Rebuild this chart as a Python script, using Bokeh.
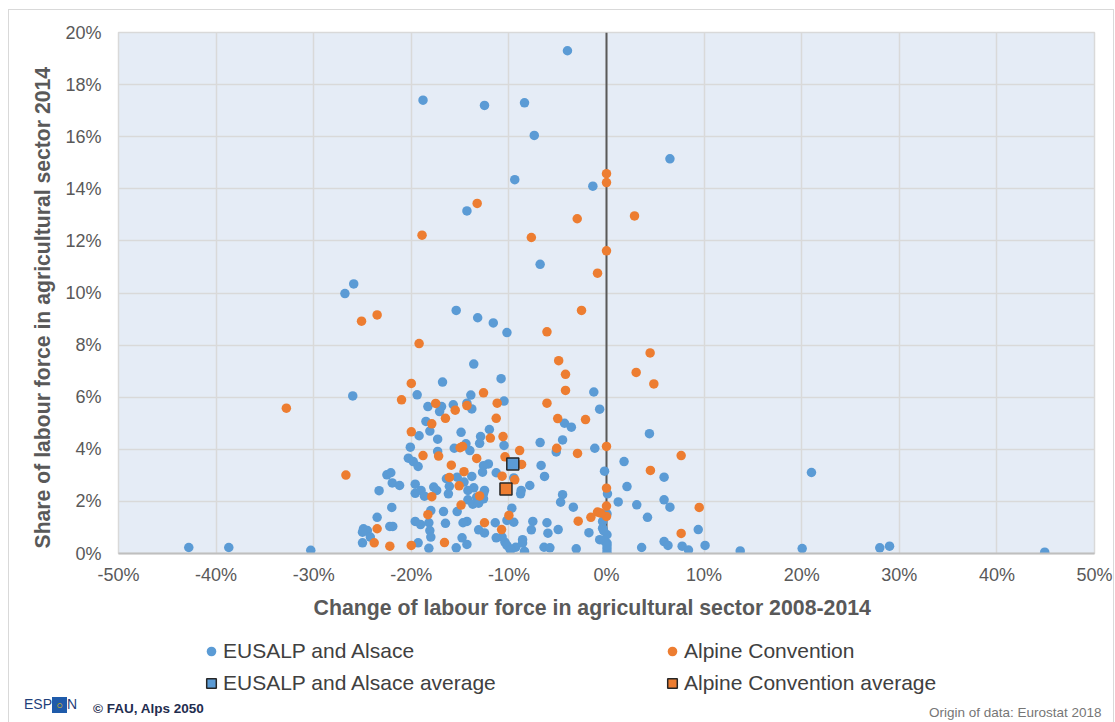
from bokeh.plotting import figure
from bokeh.layouts import column
from bokeh.models import (ColumnDataSource, FixedTicker, PrintfTickFormatter, Span,
                          Legend, LegendItem, Title, Range1d, Div)
from bokeh.embed import file_html
from bokeh.resources import INLINE

# ---------------- data (percent) ----------------
eusalp_change = [
    -4.0, -18.8, -12.5, -8.4, -7.4, 6.5, -9.4, -1.4, -14.3, -6.8,
    -25.9, -26.8, -15.4, -13.2, -11.6, -10.2, -13.6, -10.8, -16.8, -1.3,
    -26.0, -19.4, -13.9, -0.7, -18.3, -16.9, -17.1, -15.7, -14.3, -13.8,
    -10.5, -18.5, -18.1, -19.2, -17.3, -14.9, -12.0, -12.9, -13.0, -14.4,
    -10.5, -20.1, -15.6, -14.0, -17.3, -6.8, -4.5, -1.2, -5.15, -4.3,
    -3.6, 4.4, -20.3, -19.8, -19.3, -12.1, -12.6, -12.7, -11.3, -6.7,
    -6.35, -0.2, 1.8, 5.9, -22.5, -22.1, -21.95, -21.2, -23.3, -19.6,
    -19.6, -19.0, -18.65, -17.7, -17.4, -16.4, -16.1, -16.2, -15.3, -14.6,
    -14.2, -13.8, -13.6, -13.3, -14.2, -13.7, -13.1, -12.5, -8.74, -8.8,
    -7.86, -4.5, -4.7, -3.4, 0.1, 1.2, 2.1, 3.1, 5.9, 6.5,
    4.2, -22.0, -23.5, -18.0, -16.7, -15.3, -9.7, -10.2, -9.5, -11.4,
    -7.55, -6.1, -7.7, -6.0, -4.95, -1.8, -0.4, -0.4, 0.05, 0.05,
    -0.7, 0.05, 0.05, 0.05, 9.4, 10.1, 13.7, 5.9, 6.3, 7.75,
    8.4, 3.6, -3.1, -6.4, -5.8, -8.4, -8.6, -9.3, -9.9, -10.4,
    -10.7, -11.3, -12.5, -13.1, -14.3, -14.7, -14.8, -14.3, -15.4, -16.5,
    -18.2, -18.1, -18.0, -18.2, -19.6, -19.05, -19.3, -22.2, -21.9, -24.9,
    -24.5, -25.0, -24.2, -25.0, -42.8, -38.7, -30.3, 21.0, 20.05, 28.0,
    29.0, 44.9, -9.5, -12.6, -10.2, -9.8, -8.6, -0.3, -0.3, 0.05, -12.6,
]
eusalp_share = [
    19.3, 17.4, 17.2, 17.3, 16.05, 15.15, 14.35, 14.1, 13.15, 11.1,
    10.35, 9.98, 9.33, 9.05, 8.85, 8.48, 7.27, 6.71, 6.58, 6.2,
    6.05, 6.09, 6.08, 5.54, 5.64, 5.64, 5.45, 5.71, 5.77, 5.55,
    5.85, 5.07, 4.7, 4.52, 4.39, 4.65, 4.76, 4.49, 4.23, 4.21,
    4.15, 4.08, 4.04, 3.95, 3.92, 4.26, 4.36, 4.04, 3.9, 5.0,
    4.85, 4.6, 3.66, 3.53, 3.34, 3.44, 3.37, 3.12, 3.1, 3.38,
    2.96, 3.16, 3.53, 2.93, 3.02, 3.1, 2.71, 2.61, 2.41, 2.66,
    2.31, 2.42, 2.2, 2.55, 2.42, 2.87, 2.58, 2.29, 2.93, 2.74,
    2.42, 2.96, 2.52, 2.16, 2.06, 1.89, 1.93, 2.42, 2.42, 2.29,
    2.61, 2.26, 1.97, 1.78, 2.29, 1.98, 2.57, 1.87, 2.06, 1.78,
    1.39, 1.77, 1.39, 1.65, 1.61, 1.61, 1.74, 1.27, 1.2, 1.18,
    1.23, 1.18, 0.91, 0.78, 0.92, 0.8, 1.23, 0.97, 1.52, 0.72,
    0.53, 0.4, 0.18, 0.05, 0.92, 0.31, 0.1, 0.46, 0.31, 0.28,
    0.13, 0.23, 0.18, 0.24, 0.22, 0.08, 0.53, 0.24, 0.18, 0.43,
    0.63, 0.6, 0.79, 0.91, 1.23, 1.18, 0.6, 0.35, 0.22, 1.16,
    1.18, 0.88, 0.63, 0.2, 1.23, 1.11, 0.41, 1.04, 1.04, 0.95,
    0.88, 0.82, 0.63, 0.41, 0.23, 0.23, 0.12, 3.11, 0.19, 0.22,
    0.28, 0.05, 2.9, 2.3, 0.31, 0.14, 0.4, 0.88, 0.5, 0.3, 2.1,
]
alpine_change = [
    0.0, 0.0, -13.25, -3.0, 2.87, -18.9, -7.7, 0.0, -0.92, -25.1,
    -23.5, -2.56, -6.1, -19.2, 4.47, -4.9, -4.2, 3.04, 4.85, -4.2,
    -20.0, -12.6, -21.0, -17.5, -14.3, -15.5, -11.2, -6.1, -11.3, -16.5,
    -17.9, -5.0, -2.15, -20.0, -11.9, -10.6, 0.0, -5.1, -2.97, 7.65,
    -15.0, -14.75, -8.9, -18.8, -17.2, -13.3, -10.4, -8.7, -15.9, 4.5,
    -14.6, -10.7, -9.4, -16.1, -15.1, 0.0, -13.0, -17.9, -14.9, 0.0,
    9.5, -0.92, -1.6, 0.0, -2.9, -10.0, -18.3, -12.5, -23.5, -10.75,
    7.65, -23.8, -22.2, -20.0, -16.6, -32.8, -26.7, -0.6,
]
alpine_share = [
    14.58, 14.24, 13.44, 12.85, 12.96, 12.22, 12.13, 11.62, 10.76, 8.92,
    9.16, 9.33, 8.51, 8.06, 7.7, 7.4, 6.88, 6.95, 6.51, 6.26,
    6.53, 6.17, 5.9, 5.76, 5.68, 5.5, 5.77, 5.77, 5.19, 5.19,
    4.98, 5.18, 5.14, 4.67, 4.43, 4.49, 4.11, 4.04, 3.84, 3.76,
    4.06, 4.11, 3.95, 3.76, 3.74, 3.65, 3.71, 3.42, 3.39, 3.19,
    3.14, 2.97, 2.83, 2.92, 2.6, 2.51, 2.21, 2.18, 1.86, 1.82,
    1.77, 1.59, 1.39, 1.42, 1.24, 1.46, 1.49, 1.18, 0.95, 0.92,
    0.77, 0.41, 0.28, 0.31, 0.42, 5.58, 3.01, 1.55,
]
eusalp_avg_change = [-9.6]
eusalp_avg_share = [3.44]
alpine_avg_change = [-10.3]
alpine_avg_share = [2.48]

x_ticks = [-50, -40, -30, -20, -10, 0, 10, 20, 30, 40, 50]
y_ticks = [0, 2, 4, 6, 8, 10, 12, 14, 16, 18, 20]

BLUE = "#5B9BD5"
ORANGE = "#ED7D31"
FONT = "Liberation Sans"
GREY = "#595959"

p = figure(width=1115, height=632, x_range=Range1d(-50, 50), y_range=Range1d(0, 20),
           output_backend="svg", toolbar_location=None,
           min_border_left=118, min_border_right=21, min_border_top=32, min_border_bottom=79,
           background_fill_color="#E5ECF6", border_fill_color=None,
           outline_line_color="#D9D9D9", outline_line_width=1.5)

# grids
p.xgrid.ticker = FixedTicker(ticks=x_ticks)
p.ygrid.ticker = FixedTicker(ticks=y_ticks)
for g in (p.xgrid, p.ygrid):
    g.grid_line_color = "#D9D9D9"
    g.grid_line_width = 1.5

# axes
p.xaxis.ticker = FixedTicker(ticks=x_ticks)
p.yaxis.ticker = FixedTicker(ticks=y_ticks)
p.xaxis.formatter = PrintfTickFormatter(format="%d%%")
p.yaxis.formatter = PrintfTickFormatter(format="%d%%")
for ax in (p.xaxis, p.yaxis):
    ax.major_tick_line_color = None
    ax.minor_tick_line_color = None
    ax.major_tick_out = 0
    ax.major_tick_in = 0
    ax.major_label_text_font = FONT
    ax.major_label_text_font_size = "18px"
    ax.major_label_text_color = GREY
p.xaxis.axis_line_color = "#BFBFBF"
p.xaxis.axis_line_width = 2
p.yaxis.axis_line_color = None
p.xaxis.major_label_standoff = 11
p.yaxis.major_label_standoff = 17

# zero line
p.add_layout(Span(location=0, dimension="height", line_color=GREY, line_width=2, level="underlay"))

# data
src_e = ColumnDataSource(dict(x=eusalp_change, y=eusalp_share))
src_a = ColumnDataSource(dict(x=alpine_change, y=alpine_share))
src_ea = ColumnDataSource(dict(x=eusalp_avg_change, y=eusalp_avg_share))
src_aa = ColumnDataSource(dict(x=alpine_avg_change, y=alpine_avg_share))

def draw(fig):
    r_e = fig.scatter("x", "y", source=src_e, size=9.5, fill_color=BLUE, line_color=None)
    r_a = fig.scatter("x", "y", source=src_a, size=9.5, fill_color=ORANGE, line_color=None)
    r_ea = fig.scatter("x", "y", source=src_ea, marker="square", size=12, fill_color=BLUE,
                       line_color="#262626", line_width=1.5)
    r_aa = fig.scatter("x", "y", source=src_aa, marker="square", size=12, fill_color=ORANGE,
                       line_color="#262626", line_width=1.5)
    return r_e, r_a, r_ea, r_aa

draw(p)

# axis titles
ytitle = Title(text="Share of labour force in agricultural sector 2014", align="left",
               text_font=FONT, text_font_size="21.2px", text_font_style="bold",
               text_color=GREY, standoff=17, offset=5)
p.add_layout(ytitle, "left")
xtitle = Title(text="Change of labour force in agricultural sector 2008-2014", align="left",
               text_font=FONT, text_font_size="21.3px", text_font_style="bold",
               text_color=GREY, standoff=13, offset=195)
p.add_layout(xtitle, "below")

# ---------------- legend strip (frame aligned with the main plot frame) ----------------
q = figure(width=1115, height=68, x_range=Range1d(1000, 1001), y_range=Range1d(1000, 1001),
           output_backend="svg", toolbar_location=None, x_axis_type=None, y_axis_type=None,
           min_border_left=118, min_border_right=21, min_border_top=0, min_border_bottom=0,
           background_fill_color=None, border_fill_color=None, outline_line_color=None)
q_e, q_a, q_ea, q_aa = draw(q)

def make_legend(items, loc):
    return Legend(items=items, location=loc, orientation="vertical",
                  label_text_font=FONT, label_text_font_size="21px", label_text_color="#404040",
                  border_line_color=None, background_fill_alpha=0, padding=0, margin=0,
                  spacing=8, glyph_width=24, glyph_height=24, label_standoff=0)

q.add_layout(make_legend([LegendItem(label="EUSALP and Alsace", renderers=[q_e]),
                          LegendItem(label="EUSALP and Alsace average", renderers=[q_ea])],
                         (81, 5)))
q.add_layout(make_legend([LegendItem(label="Alpine Convention", renderers=[q_a]),
                          LegendItem(label="Alpine Convention average", renderers=[q_aa])],
                         (542, 5)))

# ---------------- footer ----------------
footer = Div(width=1115, height=22, margin=0, text=(
    '<div style="position:relative;width:1115px;height:22px;font-family:\'Liberation Sans\',Arial,sans-serif;">'
    '<span style="position:absolute;left:24px;top:-4px;font-size:14px;color:#1F3F7A;line-height:16px;white-space:nowrap;">ESP'
    '<span style="display:inline-block;width:15px;height:16px;background:#1F5BAA;color:#F2C300;'
    'text-align:center;vertical-align:middle;font-size:11px;line-height:16px;">&#9675;</span>N</span>'
    '<span style="position:absolute;left:93px;top:-1px;font-size:13.5px;font-weight:bold;color:#1F2D4F;white-space:nowrap;">'
    '&copy; FAU, Alps 2050</span>'
    '<span style="position:absolute;left:929px;top:3px;font-size:13.5px;color:#767676;white-space:nowrap;">'
    'Origin of data: Eurostat 2018</span>'
    '</div>'))

layout = column(p, q, footer, spacing=0)
layout.styles = {
    "background": ("linear-gradient(#D9D9D9,#D9D9D9) 8px 9px / 1106px 1px no-repeat, "
                   "linear-gradient(#D9D9D9,#D9D9D9) 8px 9px / 1px 713px no-repeat, "
                   "linear-gradient(#D9D9D9,#D9D9D9) 1113px 9px / 1px 713px no-repeat, white"),
}

open("out.html", "w").write(file_html(layout, INLINE))
